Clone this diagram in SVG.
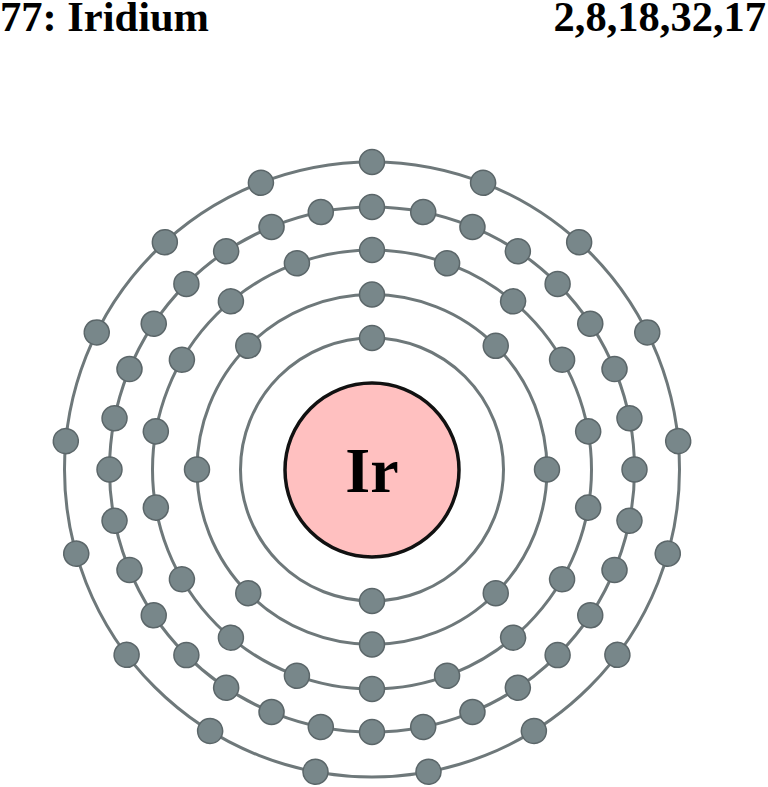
<svg xmlns="http://www.w3.org/2000/svg" xmlns:xlink="http://www.w3.org/1999/xlink" width="768" height="787" viewBox="0 0 768 787">
<style>
.orbit{fill:none;stroke:#6e787a;stroke-width:3}
.el{fill:#78878a;stroke:#5b6669;stroke-width:1.5}
.title{font-family:"Liberation Serif","Times New Roman",serif;font-weight:bold;font-size:42.5px;fill:#000}
</style>
<defs>
<circle id="e1" class="el" cx="372" cy="338" r="12.5"/>
<circle id="e2" class="el" cx="372" cy="294.5" r="12.5"/>
<circle id="e3" class="el" cx="372" cy="250" r="12.5"/>
<circle id="e4" class="el" cx="372" cy="207" r="12.5"/>
<circle id="e5" class="el" cx="372" cy="162" r="12.5"/>
</defs>
<rect width="768" height="787" fill="#fff"/>
<text class="title" x="0" y="30.5">77: Iridium</text>
<text class="title" x="766" y="30.5" text-anchor="end">2,8,18,32,17</text>
<g id="orbits">
<circle class="orbit" cx="372" cy="469.5" r="131.5"/>
<circle class="orbit" cx="372" cy="469.5" r="175"/>
<circle class="orbit" cx="372" cy="469.5" r="219.5"/>
<circle class="orbit" cx="372" cy="469.5" r="262.5"/>
<circle class="orbit" cx="372" cy="469.5" r="307.5"/>
</g>
<g id="nucleus">
<circle cx="372" cy="470" r="87" fill="#ffc0c0" stroke="#111" stroke-width="3.5"/>
<text x="372" y="492" text-anchor="middle" font-family="'Liberation Serif','Times New Roman',serif" font-weight="bold" font-size="64">Ir</text>
</g>
<g id="shell1">
<use xlink:href="#e1"/>
<use xlink:href="#e1" transform="rotate(180 372 469.5)"/>
</g>
<g id="shell2">
<use xlink:href="#e2"/>
<use xlink:href="#e2" transform="rotate(45 372 469.5)"/>
<use xlink:href="#e2" transform="rotate(90 372 469.5)"/>
<use xlink:href="#e2" transform="rotate(135 372 469.5)"/>
<use xlink:href="#e2" transform="rotate(180 372 469.5)"/>
<use xlink:href="#e2" transform="rotate(225 372 469.5)"/>
<use xlink:href="#e2" transform="rotate(270 372 469.5)"/>
<use xlink:href="#e2" transform="rotate(315 372 469.5)"/>
</g>
<g id="shell3">
<use xlink:href="#e3"/>
<use xlink:href="#e3" transform="rotate(20 372 469.5)"/>
<use xlink:href="#e3" transform="rotate(40 372 469.5)"/>
<use xlink:href="#e3" transform="rotate(60 372 469.5)"/>
<use xlink:href="#e3" transform="rotate(80 372 469.5)"/>
<use xlink:href="#e3" transform="rotate(100 372 469.5)"/>
<use xlink:href="#e3" transform="rotate(120 372 469.5)"/>
<use xlink:href="#e3" transform="rotate(140 372 469.5)"/>
<use xlink:href="#e3" transform="rotate(160 372 469.5)"/>
<use xlink:href="#e3" transform="rotate(180 372 469.5)"/>
<use xlink:href="#e3" transform="rotate(200 372 469.5)"/>
<use xlink:href="#e3" transform="rotate(220 372 469.5)"/>
<use xlink:href="#e3" transform="rotate(240 372 469.5)"/>
<use xlink:href="#e3" transform="rotate(260 372 469.5)"/>
<use xlink:href="#e3" transform="rotate(280 372 469.5)"/>
<use xlink:href="#e3" transform="rotate(300 372 469.5)"/>
<use xlink:href="#e3" transform="rotate(320 372 469.5)"/>
<use xlink:href="#e3" transform="rotate(340 372 469.5)"/>
</g>
<g id="shell4">
<use xlink:href="#e4"/>
<use xlink:href="#e4" transform="rotate(11.25 372 469.5)"/>
<use xlink:href="#e4" transform="rotate(22.5 372 469.5)"/>
<use xlink:href="#e4" transform="rotate(33.75 372 469.5)"/>
<use xlink:href="#e4" transform="rotate(45 372 469.5)"/>
<use xlink:href="#e4" transform="rotate(56.25 372 469.5)"/>
<use xlink:href="#e4" transform="rotate(67.5 372 469.5)"/>
<use xlink:href="#e4" transform="rotate(78.75 372 469.5)"/>
<use xlink:href="#e4" transform="rotate(90 372 469.5)"/>
<use xlink:href="#e4" transform="rotate(101.25 372 469.5)"/>
<use xlink:href="#e4" transform="rotate(112.5 372 469.5)"/>
<use xlink:href="#e4" transform="rotate(123.75 372 469.5)"/>
<use xlink:href="#e4" transform="rotate(135 372 469.5)"/>
<use xlink:href="#e4" transform="rotate(146.25 372 469.5)"/>
<use xlink:href="#e4" transform="rotate(157.5 372 469.5)"/>
<use xlink:href="#e4" transform="rotate(168.75 372 469.5)"/>
<use xlink:href="#e4" transform="rotate(180 372 469.5)"/>
<use xlink:href="#e4" transform="rotate(191.25 372 469.5)"/>
<use xlink:href="#e4" transform="rotate(202.5 372 469.5)"/>
<use xlink:href="#e4" transform="rotate(213.75 372 469.5)"/>
<use xlink:href="#e4" transform="rotate(225 372 469.5)"/>
<use xlink:href="#e4" transform="rotate(236.25 372 469.5)"/>
<use xlink:href="#e4" transform="rotate(247.5 372 469.5)"/>
<use xlink:href="#e4" transform="rotate(258.75 372 469.5)"/>
<use xlink:href="#e4" transform="rotate(270 372 469.5)"/>
<use xlink:href="#e4" transform="rotate(281.25 372 469.5)"/>
<use xlink:href="#e4" transform="rotate(292.5 372 469.5)"/>
<use xlink:href="#e4" transform="rotate(303.75 372 469.5)"/>
<use xlink:href="#e4" transform="rotate(315 372 469.5)"/>
<use xlink:href="#e4" transform="rotate(326.25 372 469.5)"/>
<use xlink:href="#e4" transform="rotate(337.5 372 469.5)"/>
<use xlink:href="#e4" transform="rotate(348.75 372 469.5)"/>
</g>
<g id="shell5">
<use xlink:href="#e5"/>
<use xlink:href="#e5" transform="rotate(21.176 372 469.5)"/>
<use xlink:href="#e5" transform="rotate(42.353 372 469.5)"/>
<use xlink:href="#e5" transform="rotate(63.529 372 469.5)"/>
<use xlink:href="#e5" transform="rotate(84.706 372 469.5)"/>
<use xlink:href="#e5" transform="rotate(105.882 372 469.5)"/>
<use xlink:href="#e5" transform="rotate(127.059 372 469.5)"/>
<use xlink:href="#e5" transform="rotate(148.235 372 469.5)"/>
<use xlink:href="#e5" transform="rotate(169.412 372 469.5)"/>
<use xlink:href="#e5" transform="rotate(190.588 372 469.5)"/>
<use xlink:href="#e5" transform="rotate(211.765 372 469.5)"/>
<use xlink:href="#e5" transform="rotate(232.941 372 469.5)"/>
<use xlink:href="#e5" transform="rotate(254.118 372 469.5)"/>
<use xlink:href="#e5" transform="rotate(275.294 372 469.5)"/>
<use xlink:href="#e5" transform="rotate(296.471 372 469.5)"/>
<use xlink:href="#e5" transform="rotate(317.647 372 469.5)"/>
<use xlink:href="#e5" transform="rotate(338.824 372 469.5)"/>
</g>
</svg>
